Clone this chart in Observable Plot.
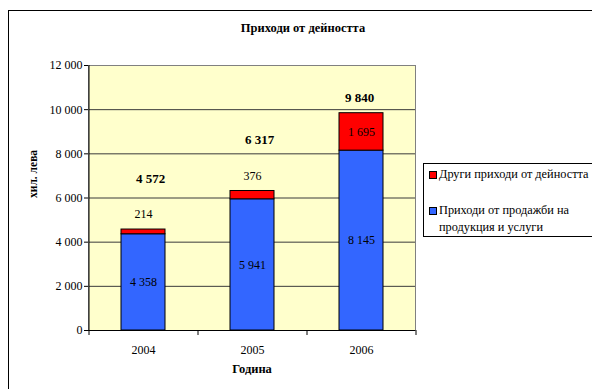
<!DOCTYPE html>
<html><head><meta charset="utf-8">
<script src="https://cdn.jsdelivr.net/npm/d3@7"></script>
<script src="https://cdn.jsdelivr.net/npm/@observablehq/plot@0.6"></script>
<style>
body{margin:0;background:#fff;}
#wrap{position:relative;width:592px;height:389px;overflow:hidden;font-family:'Liberation Serif','Times New Roman',Times,serif;color:#000;}
#border{position:absolute;left:8px;top:10px;width:700px;height:500px;border-left:1.5px solid #000;border-top:1.5px solid #000;}
#title{position:absolute;left:203px;width:200px;top:21px;text-align:center;font-weight:bold;font-size:12.5px;}
#legend{position:absolute;left:423px;top:163px;width:180px;height:72px;border:1px solid #000;background:#fff;font-size:12.3px;line-height:17px;}
.item{position:absolute;left:15px;}
.sw{position:absolute;left:-10px;top:5px;width:6px;height:6px;border:1px solid #000;}
#chart{position:absolute;left:0;top:0;}
</style></head>
<body>
<div id="wrap">
  <div id="border"></div>
  <div id="chart"></div>
  <div id="title"></div>
  <div id="legend"></div>
</div>
<script>
const title = "Приходи от дейността";
const years = ["2004", "2005", "2006"];
const seriesNames = ["Приходи от продажби на продукция и услуги", "Други приходи от дейността"];
const legendLines = [["Други приходи от дейността"], ["Приходи от продажби на", "продукция и услуги"]];
const sales = [4358, 5941, 8145];
const other = [214, 376, 1695];
const totals = [4572, 6317, 9840];
const yTicks = [0, 2000, 4000, 6000, 8000, 10000, 12000];
const colors = ["#3366FF", "#FF0000"];
const yLabel = "хил. лева";
const xLabel = "Година";

const fmt = d => d3.format(",")(d).replace(/,/g, " ");

const rows = [];
years.forEach((y, i) => {
  rows.push({year: y, series: seriesNames[0], value: sales[i]});
  rows.push({year: y, series: seriesNames[1], value: other[i]});
});

const small = other.map(v => v < 1000);
const inside = [], above = [];
years.forEach((y, i) => {
  inside.push({year: y, y: sales[i] / 2, text: fmt(sales[i])});
  if (small[i]) above.push({year: y, y: totals[i], text: fmt(other[i])});
  else inside.push({year: y, y: sales[i] + other[i] / 2, text: fmt(other[i])});
});
const totLabels = years.map((y, i) => ({year: y, y: totals[i], text: fmt(totals[i]), small: small[i]}));

const W = 592, H = 389, mL = 88, mR = 177, mT = 65, mB = 59;
const step = (W - mL - mR) / years.length;
const FF = "'Liberation Serif', 'Times New Roman', Times, serif";

const plot = Plot.plot({
  width: W, height: H,
  marginLeft: mL, marginRight: mR, marginTop: mT, marginBottom: mB,
  style: {fontFamily: FF, fontSize: "12px", background: "transparent", color: "#000", overflow: "visible"},
  x: {domain: years, paddingInner: 0.6, paddingOuter: 0.3, label: null},
  y: {domain: [0, 12000], label: null},
  color: {domain: seriesNames, range: colors},
  marks: [
    Plot.frame({fill: "#FFFFCC", stroke: null}),
    Plot.ruleY(yTicks.slice(1), {stroke: "#3a3a3a", strokeWidth: 1}),
    Plot.frame({stroke: "#808080", strokeWidth: 1}),
    Plot.barY(rows, {x: "year", y: "value", fill: "series", stroke: "#000", strokeWidth: 1}),
    Plot.ruleY([0], {stroke: "#000", strokeWidth: 1}),
    Plot.ruleX([years[0]], {stroke: "#000", strokeWidth: 1, dx: -step / 2}),
    Plot.axisY(yTicks, {tickSize: 4, tickPadding: 2, tickFormat: fmt, label: null}),
    Plot.axisX({tickSize: 0, tickPadding: 15, label: null}),
    Plot.axisX(years, {tickSize: 5, tickFormat: () => "", dx: -step / 2, label: null}),
    Plot.axisX([years[years.length - 1]], {tickSize: 5, tickFormat: () => "", dx: step / 2, label: null}),
    Plot.text(inside, {x: "year", y: "y", text: "text", textAnchor: "middle", fill: "#000"}),
    Plot.text(above, {x: "year", y: "y", text: "text", textAnchor: "middle", dy: -15, fill: "#000"}),
    Plot.text(totLabels.filter(d => d.small), {x: "year", y: "y", text: "text", textAnchor: "middle", dy: -51, dx: 7, fontWeight: "bold", fontSize: 13}),
    Plot.text(totLabels.filter(d => !d.small), {x: "year", y: "y", text: "text", textAnchor: "middle", dy: -15, dx: -2, fontWeight: "bold", fontSize: 13}),
    Plot.text([yLabel], {frameAnchor: "left", dx: -55, rotate: -90, fontWeight: "bold", fontSize: 11.5}),
    Plot.text([xLabel], {frameAnchor: "bottom", dy: 42, fontWeight: "bold", fontSize: 12.5})
  ]
});
document.getElementById("chart").appendChild(plot);
document.getElementById("title").textContent = title;

const leg = document.getElementById("legend");
const legendColors = [colors[1], colors[0]];
const tops = [2, 38];
legendLines.forEach((lines, i) => {
  const it = document.createElement("div");
  it.className = "item";
  it.style.top = tops[i] + "px";
  it.innerHTML = `<span class="sw" style="background:${legendColors[i]}"></span>` + lines.join("<br>");
  leg.appendChild(it);
});
</script>
</body></html>
